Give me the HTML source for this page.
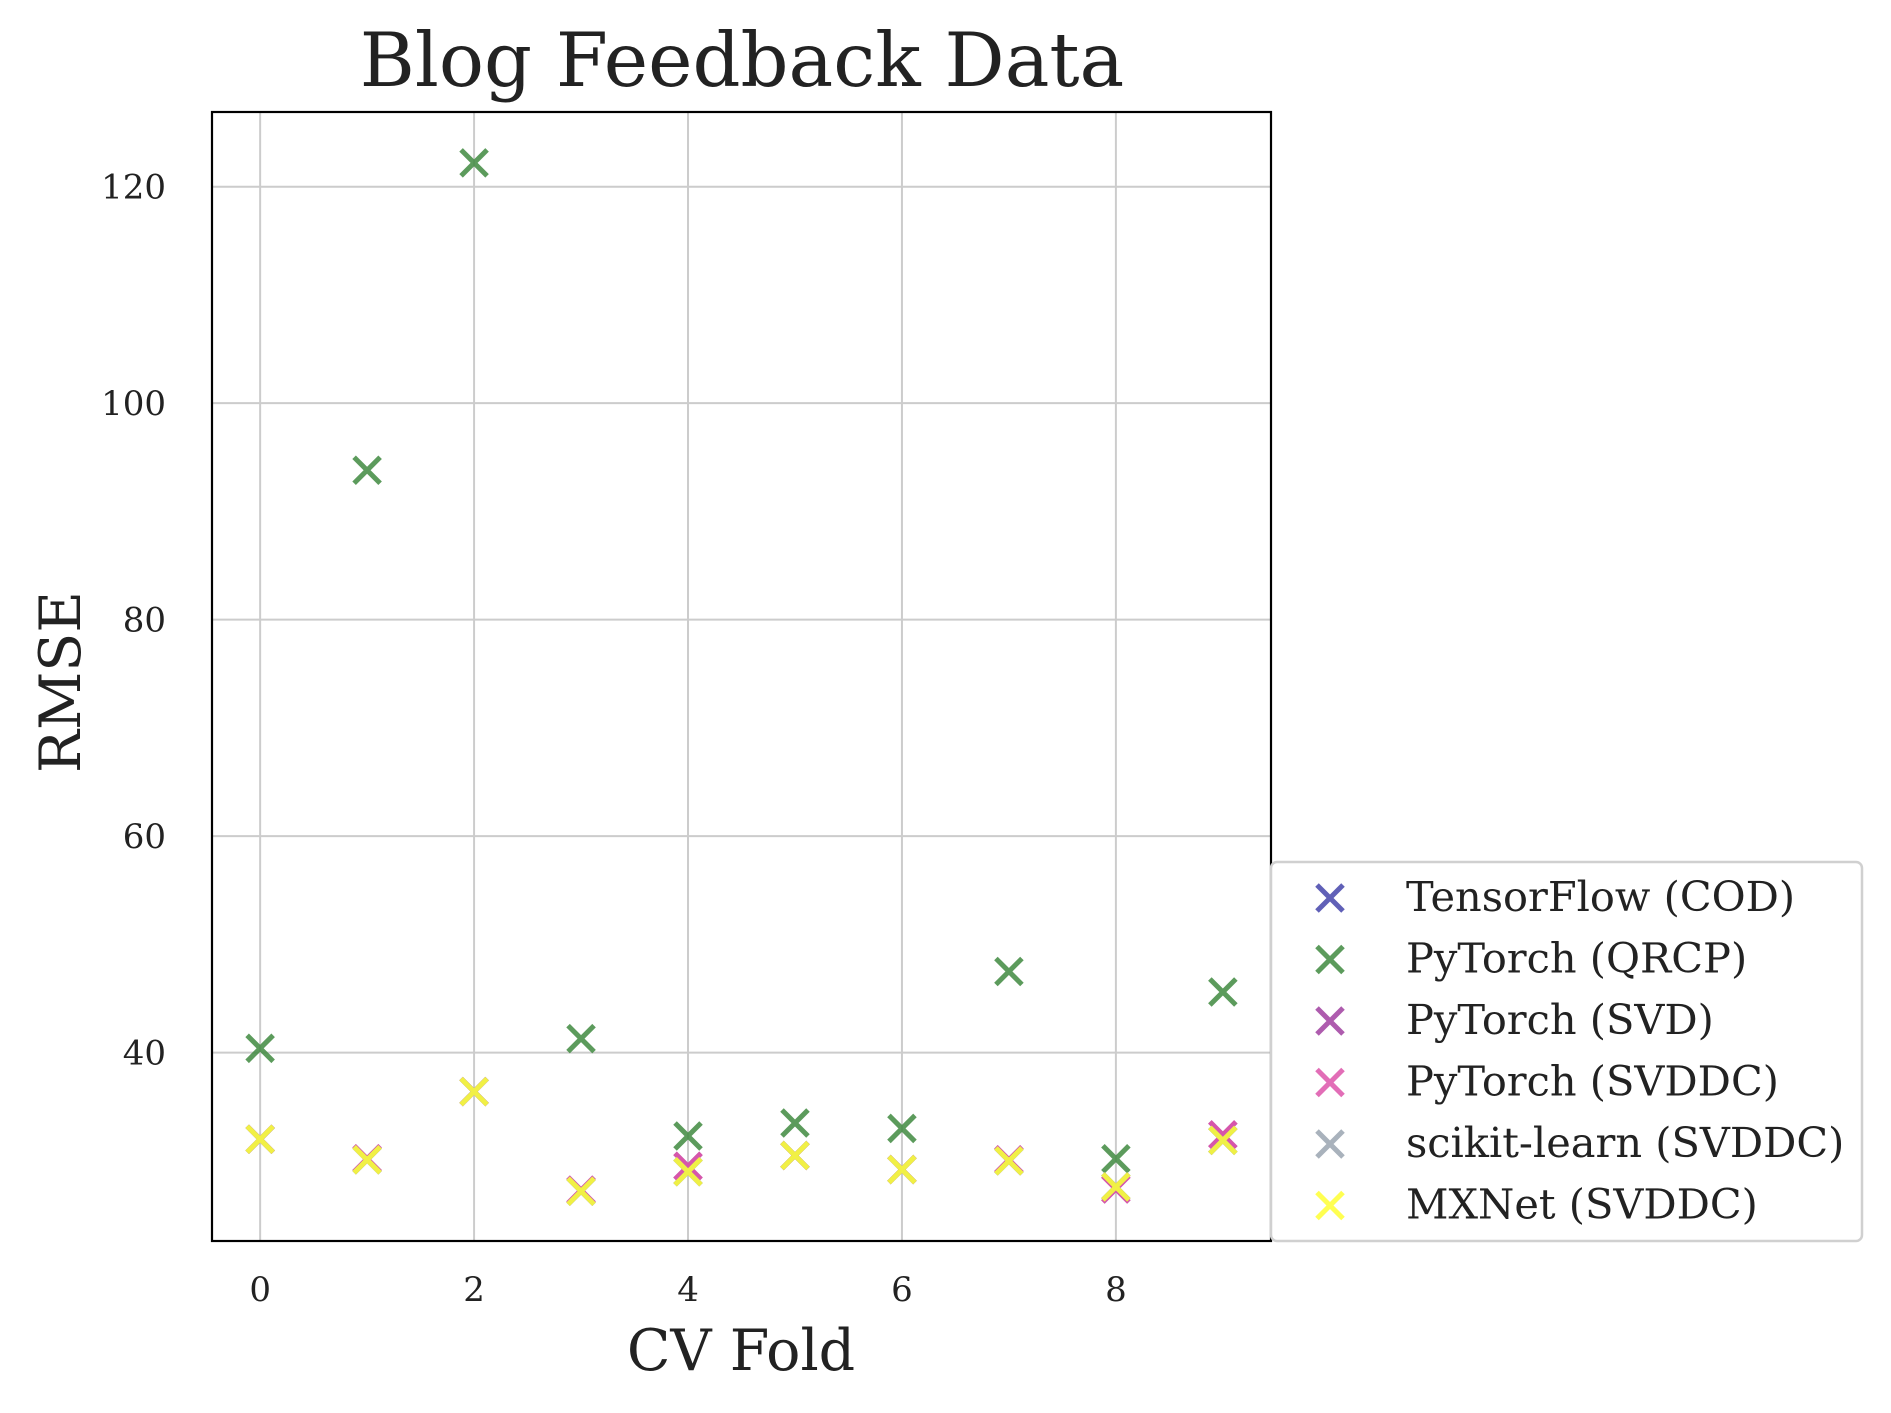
<!DOCTYPE html>
<html><head><meta charset="utf-8"><style>
html,body{margin:0;padding:0;background:#fff;}
svg{display:block;font-family:"DejaVu Serif","Liberation Serif",serif;}
</style></head><body>
<svg id="chart" width="1891" height="1413" viewBox="0 0 1891 1413" xmlns="http://www.w3.org/2000/svg">
<rect x="0" y="0" width="1891" height="1413" fill="#fff"/>
<g id="grid"></g>
<g id="marks"></g>
<rect x="212" y="112" width="1059" height="1129" fill="none" stroke="#000" stroke-width="2.2"/>
<g id="ticks"></g>
<text x="742" y="86" font-size="75" text-anchor="middle" fill="#222">Blog Feedback Data</text>
<text x="741" y="1370" font-size="57" text-anchor="middle" fill="#222">CV Fold</text>
<text transform="translate(80,682) rotate(-90)" font-size="57" text-anchor="middle" fill="#222">RMSE</text>
<g id="legend"></g>
</svg>
<script>
const folds = [0,1,2,3,4,5,6,7,8,9];
const xTicks = [0,2,4,6,8];
const yTicks = [40,60,80,100,120];
const seriesNames = ["TensorFlow (COD)","PyTorch (QRCP)","PyTorch (SVD)","PyTorch (SVDDC)","scikit-learn (SVDDC)","MXNet (SVDDC)"];
const seriesColors = ["#4444aa","#3f8a3f","#a040a0","#dd55aa","#9aa4b0","#ffff33"];
const tfCOD = [32.0,30.1,36.4,27.2,29.0,30.5,29.2,30.0,27.6,31.9];
const ptQRCP = [40.4,93.8,122.2,41.3,32.3,33.5,33.0,47.5,30.2,45.6];
const ptSVD = [32.0,30.2,36.4,27.3,29.5,30.5,29.2,30.1,27.4,32.4];
const ptSVDDC = [32.0,30.2,36.4,27.3,29.5,30.5,29.2,30.1,27.4,32.4];
const skSVDDC = [32.0,30.1,36.4,27.2,29.0,30.5,29.2,30.0,27.6,31.9];
const mxSVDDC = [32.0,30.1,36.4,27.2,29.0,30.5,29.2,30.0,27.6,31.9];
const seriesValues = [tfCOD,ptQRCP,ptSVD,ptSVDDC,skSVDDC,mxSVDDC];

const L=212,R=1271,T=112,B=1241;
const xMin=-0.45,xMax=9.45,yMin=22.6,yMax=126.9;
const xs=v=>L+(v-xMin)/(xMax-xMin)*(R-L);
const ys=v=>B-(v-yMin)/(yMax-yMin)*(B-T);
const NS="http://www.w3.org/2000/svg";
function mk(tag,attrs,parent){const e=document.createElementNS(NS,tag);for(const k in attrs)e.setAttribute(k,attrs[k]);parent.appendChild(e);return e;}
const grid=document.getElementById('grid'),ticks=document.getElementById('ticks'),marks=document.getElementById('marks'),legend=document.getElementById('legend');
xTicks.forEach(t=>{
  const g=mk('line',{x1:xs(t),x2:xs(t),y1:T,y2:B,stroke:'#cccccc','stroke-width':2},grid);
  
  
  const tl=mk('text',{x:xs(t),y:B+60,'font-size':34,'text-anchor':'middle',fill:'#222'},ticks);
  tl.textContent=t;
  
  
});
yTicks.forEach(t=>{
  const g=mk('line',{x1:L,x2:R,y1:ys(t),y2:ys(t),stroke:'#cccccc','stroke-width':2},grid);
  
  
  const tl=mk('text',{x:L-46,y:ys(t)+12,'font-size':34,'text-anchor':'end',fill:'#222'},ticks);
  tl.textContent=t;
  
  
});
function cross(cx,cy,color,parent,name){
  const s=13;
  const p=mk('path',{d:`M${cx-s},${cy-s}L${cx+s},${cy+s}M${cx-s},${cy+s}L${cx+s},${cy-s}`,stroke:color,'stroke-width':5,fill:'none',opacity:0.85},parent);
  
  
}
seriesValues.forEach((vals,si)=>{
  vals.forEach((v,i)=>cross(xs(folds[i]),ys(v),seriesColors[si],marks,'marker-series-'+si));
});
const lb=mk('rect',{x:1271,y:862,width:591,height:379,rx:6,fill:'#fff',stroke:'#d0d0d0','stroke-width':2.5},legend);


seriesNames.forEach((n,i)=>{
  const y=898+i*61.5;
  cross(1330,y,seriesColors[i],legend,'legend-marker');
  const t=mk('text',{x:1406,y:y+13,'font-size':41.5,fill:'#222'},legend);
  t.textContent=n;
  
  
});
</script>
</body></html>
